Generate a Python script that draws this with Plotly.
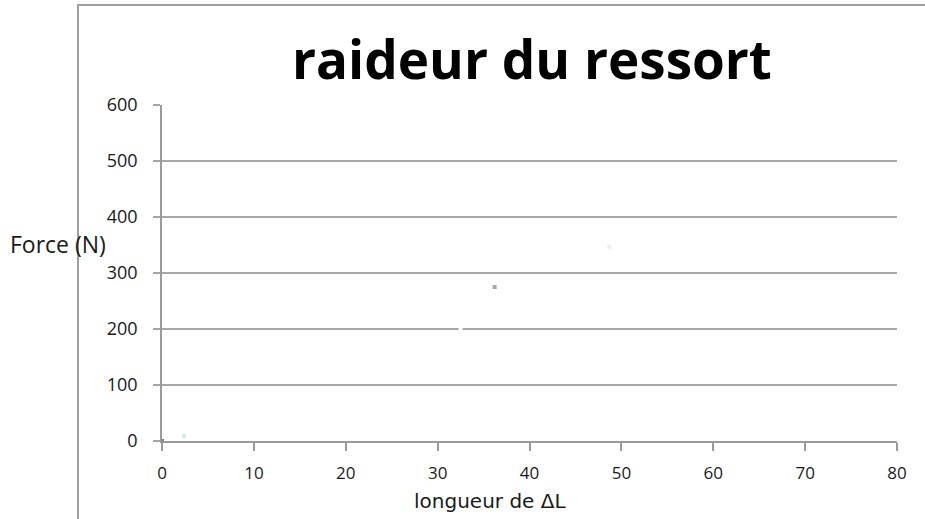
import plotly.graph_objects as go

# Measured elongation (ΔL) and applied force
allongement = [0, 2.4, 32.5, 36.2, 48.7]
force = [0, 9, 200, 275, 347]
point_colors = ["#4f81bd", "#dce6f2", "#ffffff", "#a6a6a6", "#eeeeee"]

x_ticks = [0, 10, 20, 30, 40, 50, 60, 70, 80]
y_ticks = [0, 100, 200, 300, 400, 500, 600]

L, R, T, B = 162, 28, 105, 78
W, H = 925, 519
pw, ph = W - L - R, H - T - B

fig = go.Figure()
fig.add_trace(go.Scatter(
    x=allongement, y=force, mode="markers",
    marker=dict(size=4, color=point_colors, line=dict(width=0), symbol="square"),
    showlegend=False, cliponaxis=False,
))

font_family = "Open Sans, Liberation Sans, sans-serif"

fig.update_layout(
    width=W, height=H,
    margin=dict(l=L, r=R, t=T, b=B),
    paper_bgcolor="white", plot_bgcolor="white",
    font=dict(family=font_family, color="#1a1a1a"),
    xaxis=dict(
        range=[0, 80], tickvals=x_ticks, ticktext=[str(v) for v in x_ticks],
        showgrid=False, zeroline=False,
        showline=True, linecolor="#9a9a9a", linewidth=1.5,
        ticks="outside", ticklen=8, tickcolor="#9a9a9a", tickwidth=1.5,
        ticklabelstandoff=8,
        tickfont=dict(size=17, color="#1a1a1a"),
    ),
    yaxis=dict(
        range=[0, 600], tickvals=y_ticks, ticktext=[str(v) for v in y_ticks],
        showgrid=True, gridcolor="#a6a6a6", gridwidth=1.5,
        zeroline=False,
        showline=True, linecolor="#9a9a9a", linewidth=1.5,
        ticks="outside", ticklen=7, tickcolor="#a6a6a6", tickwidth=1.5,
        ticklabelstandoff=12,
        tickfont=dict(size=18, color="#1a1a1a"),
    ),
    shapes=[
        # outer chart frame (left and top edges)
        dict(type="path", xref="paper", yref="paper",
             path=f"M {(78 - L) / pw} {-(H - T - ph + 5) / ph} L {(78 - L) / pw} {(ph + T - 5) / ph} "
                  f"L {(W + 5 - L) / pw} {(ph + T - 5) / ph}",
             line=dict(color="#a0a0a0", width=2)),
    ],
    annotations=[
        dict(text="<b>raideur du ressort</b>", xref="paper", yref="paper",
             x=(532 - L) / pw, y=(ph + T - 58) / ph, xanchor="center", yanchor="middle",
             showarrow=False, font=dict(size=53, color="#000000", family=font_family)),
        dict(text="Force (N)", xref="paper", yref="paper",
             x=(8 - L) / pw, y=(441 - 244) / ph, xanchor="left", yanchor="middle",
             showarrow=False, font=dict(size=23, color="#1a1a1a")),
        dict(text="longueur de ΔL", xref="paper", yref="paper",
             x=(490 - L) / pw, y=-(501 - 441) / ph, xanchor="center", yanchor="middle",
             showarrow=False, font=dict(size=20, color="#1a1a1a", family="DejaVu Sans")),
    ],
)

fig.write_html("out.html")
